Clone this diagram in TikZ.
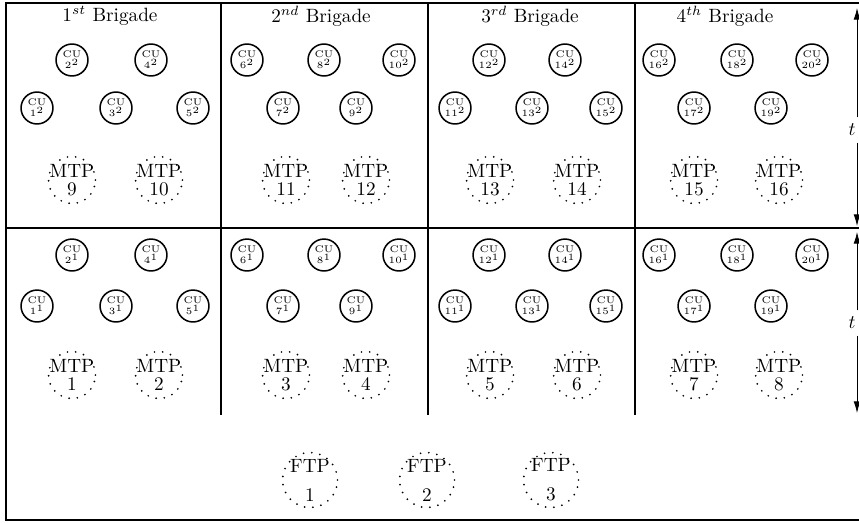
\documentclass[tikz,border=0pt]{standalone}
\usepackage{amsmath,amssymb}
\usepackage{tikz}
\usetikzlibrary{positioning,arrows.meta}
\newcommand{\zbox}[1]{\makebox[0pt]{#1}}

\begin{document}
\begin{tikzpicture}[x=0.52pt,y=-0.52pt,>={Latex[length=6pt,width=3.5pt]},
  cu/.style={circle,draw,line width=0.8pt,minimum size=16.6pt,inner sep=0pt,align=center,font=\fontsize{5}{5.8}\selectfont},
  tp/.style={circle,draw,line width=1pt,line cap=round,dash pattern=on 0pt off 4.3pt,inner sep=0pt,align=center},
  mtp/.style={tp,minimum size=24.4pt,font=\fontsize{10}{9}\selectfont},
  ftp/.style={tp,minimum size=28.6pt,font=\fontsize{10}{15}\selectfont}]
\useasboundingbox (0,0) rectangle (859,522);
% frame
\draw[line width=0.7pt] (6,3) rectangle (870,520);
\draw[line width=0.7pt] (6,228) -- (870,228);
\foreach \x in {221,428,635} \draw[line width=0.7pt] (\x,3) -- (\x,415);
% brigades
\node (b1) at (110,16) {$1^{st}$ Brigade};
\node (b2) at (321,16) {$2^{nd}$ Brigade};
\node (b3) at (530,16) {$3^{rd}$ Brigade};
\node (b4) at (725,16) {$4^{th}$ Brigade};
% CUs
\foreach \n/\x in {2/72,4/151,6/247,8/324,10/399,12/489,14/565,16/659,18/737,20/812}{
  \node[cu] (cu\n-2) at (\x,60) {CU\\$\n^2$};
  \node[cu] (cu\n-1) at (\x,255) {CU\\$\n^1$};
}
\foreach \n/\x in {1/37,3/116,5/193,7/283,9/356,11/455,13/532,15/606,17/694,19/771}{
  \node[cu] (cu\n-2) at (\x,108) {CU\\$\n^2$};
  \node[cu] (cu\n-1) at (\x,306) {CU\\$\n^1$};
}
% MTPs
\foreach \n/\x in {1/72,2/159,3/286,4/366,5/490,6/577,7/694,8/779}{
  \pgfmathtruncatemacro\m{\n+8}
  \node[mtp] (mtp\n) at (\x,375) {\zbox{MTP}\\\zbox{\n}};
  \node[mtp] (mtp\m) at (\x,180) {\zbox{MTP}\\\zbox{\m}};
}
% FTPs
\foreach \n/\x in {1/310,2/427,3/551}
  \node[ftp] (ftp\n) at (\x,480) {\zbox{FTP}\\\zbox{\n}};
% time
\node (ta) at (852,130) {$t$};
\node (tb) at (852,323) {$t$};
\coordinate (ta1) at (857,8);
\coordinate (ta2) at (857,226);
\coordinate (tb1) at (857,232);
\coordinate (tb2) at (857,413);
\draw[->] (ta.north -| ta1) -- (ta1);
\draw[->] (ta.south -| ta2) -- (ta2);
\draw[->] (tb.north -| tb1) -- (tb1);
\draw[->] (tb.south -| tb2) -- (tb2);
\end{tikzpicture}
\end{document}
